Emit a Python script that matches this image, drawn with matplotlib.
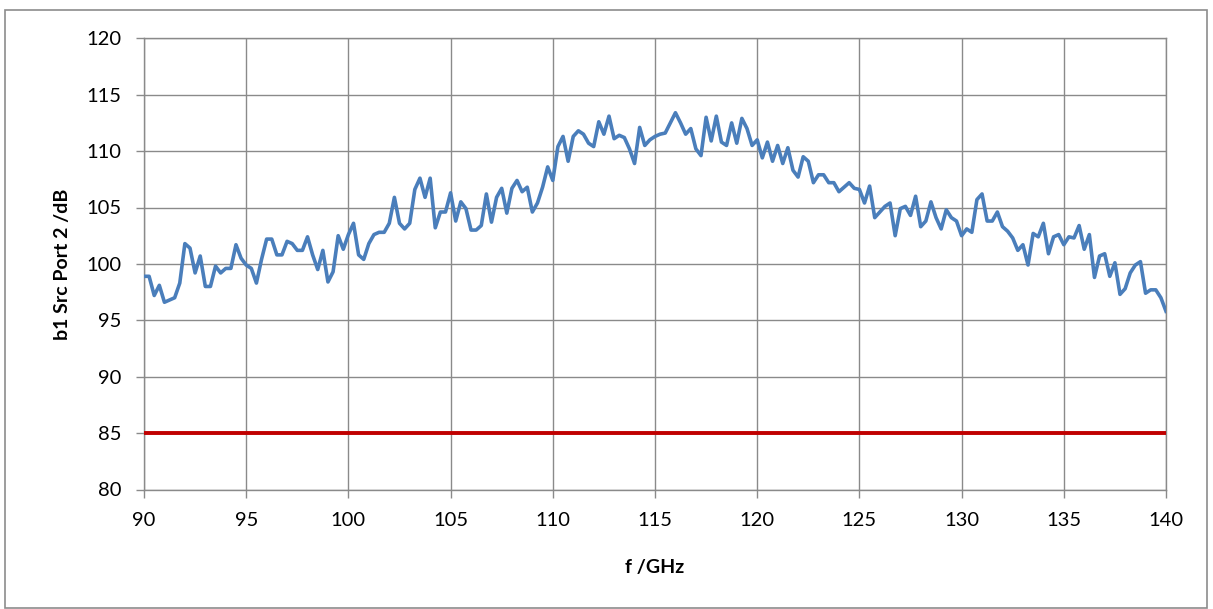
import matplotlib
matplotlib.use("Agg")
import matplotlib.pyplot as plt
import numpy as np
from matplotlib.patches import Rectangle

f_start = 90.0
f_step = 0.25
b1_src_port2 = [
    98.9, 98.9, 97.2, 98.1, 96.6, 96.8, 97.0, 98.3, 101.8, 101.4,
    99.2, 100.7, 98.0, 98.0, 99.8, 99.2, 99.6, 99.6, 101.7, 100.5,
    99.9, 99.6, 98.3, 100.4, 102.2, 102.2, 100.8, 100.8, 102.0, 101.8,
    101.2, 101.2, 102.4, 100.8, 99.5, 101.2, 98.4, 99.3, 102.5, 101.3,
    102.6, 103.6, 100.8, 100.4, 101.8, 102.6, 102.8, 102.8, 103.6, 105.9,
    103.6, 103.1, 103.6, 106.6, 107.6, 105.9, 107.6, 103.2, 104.6, 104.6,
    106.3, 103.8, 105.5, 104.9, 103.0, 103.0, 103.4, 106.2, 103.7, 105.9,
    106.7, 104.5, 106.7, 107.4, 106.4, 106.8, 104.6, 105.4, 106.8, 108.6,
    107.4, 110.4, 111.3, 109.1, 111.3, 111.8, 111.5, 110.7, 110.4, 112.6,
    111.5, 113.1, 111.1, 111.4, 111.2, 110.2, 108.9, 112.1, 110.5, 111.0,
    111.3, 111.5, 111.6, 112.5, 113.4, 112.5, 111.5, 112.0, 110.2, 109.6,
    113.0, 110.9, 113.1, 110.8, 110.5, 112.5, 110.7, 112.9, 112.0, 110.5,
    111.0, 109.4, 110.8, 109.1, 110.5, 108.9, 110.3, 108.3, 107.7, 109.5,
    109.1, 107.2, 107.9, 107.9, 107.2, 107.2, 106.4, 106.8, 107.2, 106.7,
    106.6, 105.4, 106.9, 104.1, 104.6, 105.1, 105.4, 102.5, 104.9, 105.1,
    104.3, 106.0, 103.3, 103.8, 105.5, 104.1, 103.1, 104.8, 104.1, 103.8,
    102.5, 103.1, 102.8, 105.7, 106.2, 103.8, 103.8, 104.6, 103.3, 102.9,
    102.3, 101.2, 101.7, 99.9, 102.7, 102.4, 103.6, 100.9, 102.4, 102.6,
    101.7, 102.4, 102.3, 103.4, 101.3, 102.6, 98.8, 100.7, 100.9, 98.9,
    100.1, 97.3, 97.8, 99.2, 99.9, 100.2, 97.4, 97.7, 97.7, 97.0,
    95.8,
]
freq = f_start + f_step * np.arange(len(b1_src_port2))
limit_level = 85.0

x_ticks = [90, 95, 100, 105, 110, 115, 120, 125, 130, 135, 140]
y_ticks = [80, 85, 90, 95, 100, 105, 110, 115, 120]

plt.rcParams['font.family'] = ['Lato', 'DejaVu Sans']

fig = plt.figure(figsize=(12.13, 6.09), dpi=100)
fig.patches.append(Rectangle((5/1213, 1/609), 1202/1213, 598/609,
                             transform=fig.transFigure, fill=False,
                             edgecolor='#8c8c8c', linewidth=1.2))
ax = fig.add_axes([144/1213, 1 - 489.5/609, (1166-144)/1213, (489.5-38.3)/609])

grid_c = '#8a8a8a'
ax.plot(freq, b1_src_port2, color='#4a7ebb', linewidth=2.6, zorder=3)
ax.axhline(limit_level, color='#c00000', linewidth=2.8, zorder=3)

ax.set_xlim(90, 140)
ax.set_ylim(80, 120)
ax.set_xticks(x_ticks)
ax.set_yticks(y_ticks)
ax.grid(True, color=grid_c, linewidth=1.0)
ax.set_axisbelow(True)
for s in ax.spines.values():
    s.set_color(grid_c)
    s.set_linewidth(1.0)
ax.tick_params(axis='both', colors=grid_c, labelcolor='#000000',
               labelsize=14.5, length=6, width=1.0, direction='out')
ax.tick_params(axis='y', pad=10)
ax.tick_params(axis='x', pad=10)

ax.set_xlabel('f /GHz', fontsize=14, fontweight='bold', labelpad=22)
ax.set_ylabel('b1 Src Port 2 /dB', fontsize=14, fontweight='bold', labelpad=11)

fig.savefig('out.png', dpi=100)
